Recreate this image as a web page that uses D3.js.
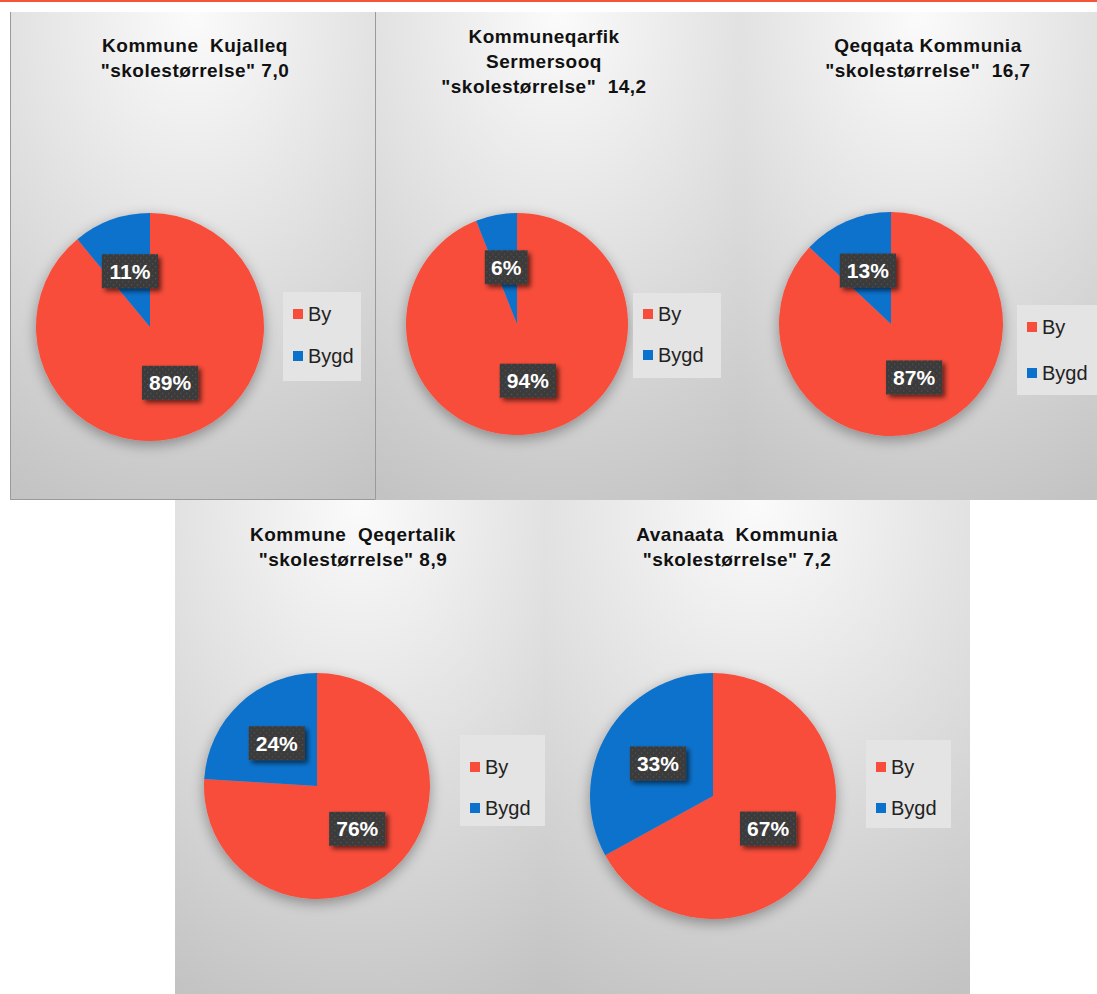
<!DOCTYPE html>
<html>
<head>
<meta charset="utf-8">
<script src="https://cdn.jsdelivr.net/npm/d3@7"></script>
<style>
  html, body { margin: 0; padding: 0; background: #ffffff; }
  svg { display: block; }
</style>
</head>
<body>
<svg id="chart" width="1097" height="994"></svg>
<script>
// ---------- DATA ----------
const categories = ["By", "Bygd"];
const titles = [
  ["Kommune  Kujalleq", "\"skolestørrelse\" 7,0"],
  ["Kommuneqarfik", "Sermersooq", "\"skolestørrelse\"  14,2"],
  ["Qeqqata Kommunia", "\"skolestørrelse\"  16,7"],
  ["Kommune  Qeqertalik", "\"skolestørrelse\" 8,9"],
  ["Avanaata  Kommunia", "\"skolestørrelse\" 7,2"]
];
const byValues   = [89, 94, 87, 76, 67];
const bygdValues = [11, 6, 13, 24, 33];
const colors = ["#f84d3b", "#0a72cc"];

// ---------- LAYOUT ----------
const layout = [
  { x: 10,  y: 12,  w: 366, h: 488, cx: 150, cy: 327, r: 114, titleX: 195, titleY: 46,
    leg: { x: 283, y: 292, w: 78, h: 89, y1: 314, y2: 356 }, border: true },
  { x: 376, y: 12,  w: 364, h: 488, cx: 517, cy: 324, r: 111, titleX: 544, titleY: 37,
    leg: { x: 633, y: 293, w: 88, h: 85, y1: 314, y2: 355 } },
  { x: 740, y: 12,  w: 357, h: 488, cx: 891, cy: 324, r: 112, titleX: 928, titleY: 46,
    leg: { x: 1017, y: 305, w: 80, h: 90, y1: 327, y2: 373 } },
  { x: 175, y: 500, w: 370, h: 494, cx: 317, cy: 786, r: 113, titleX: 353, titleY: 535,
    leg: { x: 460, y: 735, w: 86, h: 91, y1: 767, y2: 808 } },
  { x: 545, y: 500, w: 425, h: 494, cx: 713, cy: 796, r: 123, titleX: 737, titleY: 535,
    leg: { x: 866, y: 740, w: 85, h: 88, y1: 767, y2: 808 } }
];

const svg = d3.select("#chart");
const defs = svg.append("defs");

// panel gradient
const grad = defs.append("radialGradient").attr("id", "panelGrad")
  .attr("cx", "50%").attr("cy", "0%").attr("r", "110%").attr("fx", "50%").attr("fy", "0%");
grad.append("stop").attr("offset", "0%").attr("stop-color", "#fbfbfb");
grad.append("stop").attr("offset", "45%").attr("stop-color", "#e2e2e2");
grad.append("stop").attr("offset", "100%").attr("stop-color", "#c3c3c3");

// pie shadow
const pf = defs.append("filter").attr("id", "pieShadow")
  .attr("x", "-30%").attr("y", "-30%").attr("width", "160%").attr("height", "160%");
pf.append("feGaussianBlur").attr("in", "SourceAlpha").attr("stdDeviation", 7).attr("result", "b");
pf.append("feOffset").attr("in", "b").attr("dx", 0).attr("dy", 4).attr("result", "o");
pf.append("feComponentTransfer").attr("in", "o").attr("result", "s")
  .append("feFuncA").attr("type", "linear").attr("slope", 0.35);
const pm = pf.append("feMerge");
pm.append("feMergeNode").attr("in", "s");
pm.append("feMergeNode").attr("in", "SourceGraphic");

// label shadow
const lf = defs.append("filter").attr("id", "labShadow")
  .attr("x", "-30%").attr("y", "-30%").attr("width", "170%").attr("height", "180%");
lf.append("feGaussianBlur").attr("in", "SourceAlpha").attr("stdDeviation", 2.5).attr("result", "b");
lf.append("feOffset").attr("in", "b").attr("dx", 3).attr("dy", 3).attr("result", "o");
lf.append("feComponentTransfer").attr("in", "o").attr("result", "s")
  .append("feFuncA").attr("type", "linear").attr("slope", 0.6);
const lm = lf.append("feMerge");
lm.append("feMergeNode").attr("in", "s");
lm.append("feMergeNode").attr("in", "SourceGraphic");

// dotted label pattern
const pat = defs.append("pattern").attr("id", "dots").attr("patternUnits", "userSpaceOnUse")
  .attr("width", 6).attr("height", 6);
pat.append("rect").attr("width", 6).attr("height", 6).attr("fill", "#3b3b3b");
pat.append("rect").attr("x", 1).attr("y", 1).attr("width", 1.2).attr("height", 1.2).attr("fill", "#5a5a5a");
pat.append("rect").attr("x", 4).attr("y", 4).attr("width", 1.2).attr("height", 1.2).attr("fill", "#545454");

// top accent line
svg.append("rect").attr("x", 0).attr("y", 0).attr("width", 1097).attr("height", 2).attr("fill", "#f4533c");

const pie = d3.pie().sort(null).value(d => d.value);
const arc = d3.arc().innerRadius(0);

layout.forEach((L, i) => {
  const g = svg.append("g");
  g.append("rect").attr("x", L.x).attr("y", L.y).attr("width", L.w).attr("height", L.h)
    .attr("fill", "url(#panelGrad)");
  if (L.border) {
    g.append("path")
      .attr("d", `M${L.x + 0.5},${L.y} V${L.y + L.h - 0.5} H${L.x + L.w - 0.5} V${L.y}`)
      .attr("fill", "none").attr("stroke", "#9a9a9a").attr("stroke-width", 1);
  }

  // title
  const t = g.append("text").attr("text-anchor", "middle")
    .attr("font-family", "Liberation Sans, Arial, sans-serif")
    .attr("font-weight", "bold").attr("font-size", 19).attr("letter-spacing", 0.5)
    .attr("fill", "#111");
  titles[i].forEach((line, k) => {
    t.append("tspan").attr("x", L.titleX).attr("y", L.titleY + k * 25 + 6)
      .attr("xml:space", "preserve").style("white-space", "pre").text(line);
  });

  // pie
  const data = categories.map((c, k) => ({ cat: c, value: k === 0 ? byValues[i] : bygdValues[i] }));
  const arcs = pie(data);
  const a = arc.outerRadius(L.r);
  const pg = g.append("g").attr("transform", `translate(${L.cx},${L.cy})`);
  pg.append("g").attr("filter", "url(#pieShadow)")
    .selectAll("path").data(arcs).join("path")
    .attr("d", a).attr("fill", (d, k) => colors[k]);

  // labels
  const lab = d3.arc().innerRadius(L.r * 0.52).outerRadius(L.r * 0.52);
  arcs.forEach(d => {
    const [lx, ly] = lab.centroid(d);
    const txt = d.data.value + "%";
    const lg = pg.append("g").attr("transform", `translate(${lx},${ly})`);
    const tw = txt.length * 13.4;
    const bw = tw + 16, bh = 34;
    lg.append("rect").attr("x", -bw / 2).attr("y", -bh / 2).attr("width", bw).attr("height", bh)
      .attr("fill", "url(#dots)").attr("filter", "url(#labShadow)");
    lg.append("text").attr("text-anchor", "middle").attr("dy", "0.36em")
      .attr("font-family", "Liberation Sans, Arial, sans-serif").attr("font-weight", "bold")
      .attr("font-size", 21).attr("fill", "#ffffff").text(txt);
  });

  // legend
  const lgd = g.append("g");
  lgd.append("rect").attr("x", L.leg.x).attr("y", L.leg.y).attr("width", L.leg.w).attr("height", L.leg.h)
    .attr("fill", "#e4e4e4");
  categories.forEach((c, k) => {
    const yy = k === 0 ? L.leg.y1 : L.leg.y2;
    lgd.append("rect").attr("x", L.leg.x + 10).attr("y", yy - 5).attr("width", 10).attr("height", 10)
      .attr("fill", colors[k]);
    lgd.append("text").attr("x", L.leg.x + 25).attr("y", yy).attr("dy", "0.36em")
      .attr("font-family", "Liberation Sans, Arial, sans-serif").attr("font-size", 20)
      .attr("fill", "#222").text(c);
  });
});
</script>
</body>
</html>
